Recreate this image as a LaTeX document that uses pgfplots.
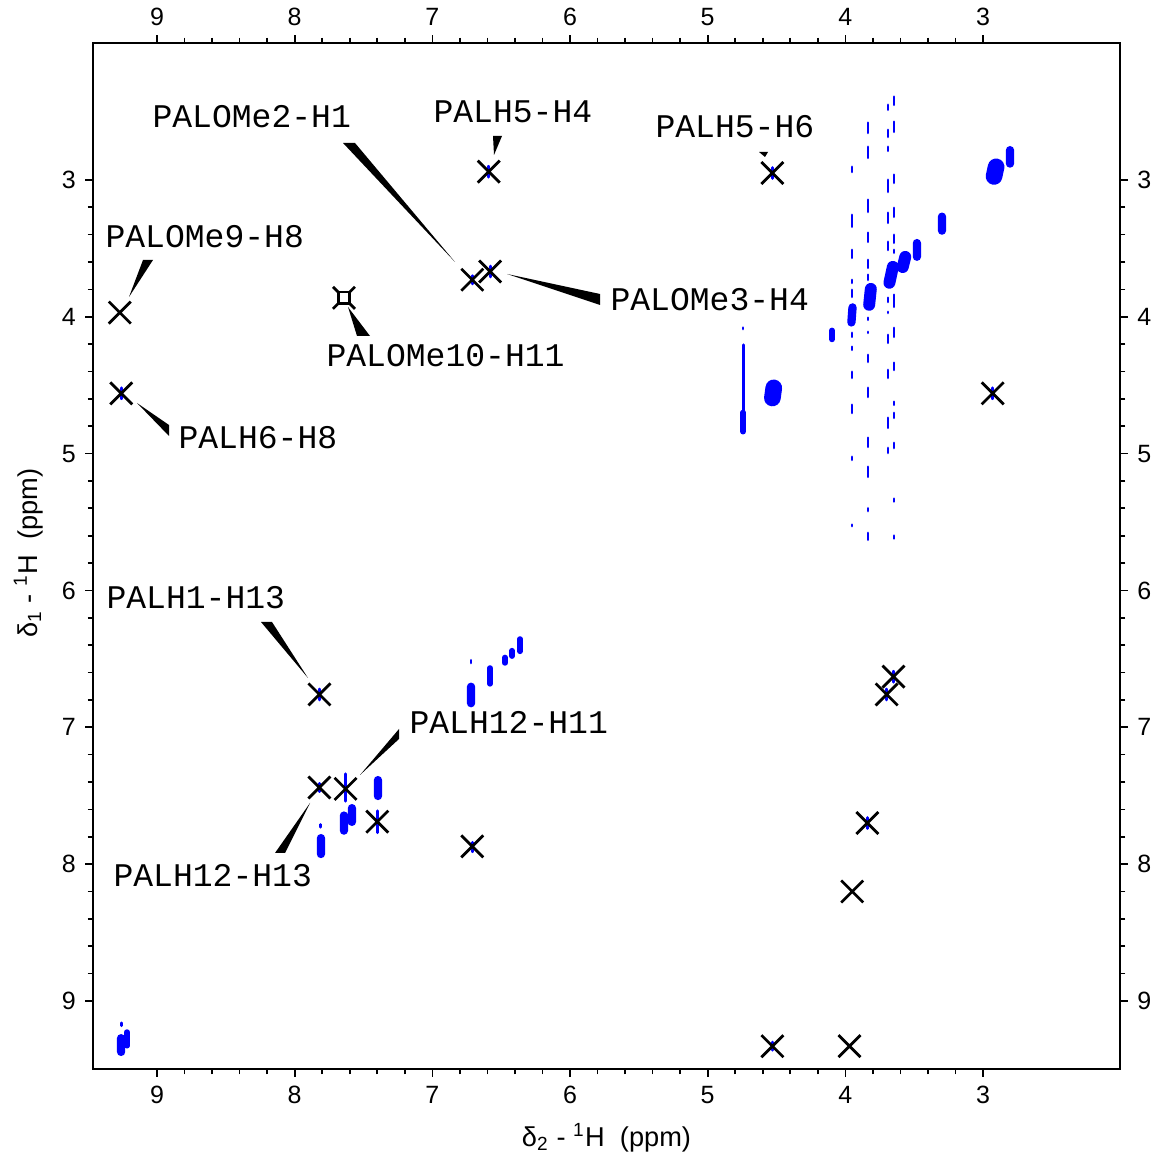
\documentclass[border=0pt]{standalone}
\usepackage{pgfplots}
\pgfplotsset{compat=1.18}
\usepackage{fontspec}
\setmainfont{Liberation Sans}
\newfontfamily\mono{Liberation Mono}

% cross peaks (delta2, delta1)
\pgfplotstableread[row sep=\\]{
x y\\
6.59 2.94\\ 4.53 2.95\\ 6.71 3.73\\ 6.58 3.67\\ 9.27 3.97\\ 9.26 4.56\\
2.93 4.56\\ 7.82 6.76\\ 3.65 6.63\\ 3.70 6.76\\ 7.82 7.44\\ 7.63 7.45\\
7.40 7.69\\ 6.71 7.87\\ 3.84 7.70\\ 3.95 8.20\\ 4.53 9.33\\ 3.97 9.33\\
}\crosses

\begin{document}
\begin{tikzpicture}
\pgfplotsset{
  nmr/.style={
    scale only axis, width=369.72pt, height=369.36pt,
    x dir=reverse, y dir=reverse,
    xmin=2.005, xmax=9.465, ymin=2.0, ymax=9.497,
    xtick={3,...,9}, ytick={3,...,9}, minor tick num=4,
    tick align=outside, major tick length=2.7pt, minor tick length=1.8pt,
    axis line style={line width=0.75pt},
    every tick/.style={black, line width=0.6pt},
    tick label style={font=\fontsize{9}{10}\selectfont},
    /pgf/number format/assume math mode=true,
    label style={font=\fontsize{9.8}{11}\selectfont},
  },
}
\begin{axis}[nmr, name=ax,
  xlabel={δ\textsubscript{2} - \textsuperscript{1}H\ \ (ppm)},
  ylabel={δ\textsubscript{1} - \textsuperscript{1}H\ \ (ppm)},
  ylabel style={xshift=1pt},
  unbounded coords=jump]
\coordinate (TL) at (axis cs:9.465,2.0);
% t1 noise streaks and thin features
\addplot[blue, line width=1pt, line cap=round] table[row sep=\\]{
x y\\
3.952 2.905\\ 3.952 2.942\\ nan nan\\ 3.952 3.256\\ 3.952 3.343\\ nan nan\\
3.952 3.512\\ 3.952 3.570\\ nan nan\\ 3.952 3.731\\ 3.952 3.753\\ nan nan\\
3.952 3.804\\ 3.952 3.855\\ nan nan\\ 3.952 4.118\\ 3.952 4.147\\ nan nan\\
3.952 4.220\\ 3.952 4.242\\ nan nan\\ 3.952 4.403\\ 3.952 4.447\\ nan nan\\
3.952 4.644\\ 3.952 4.703\\ nan nan\\ 3.952 5.024\\ 3.952 5.046\\ nan nan\\
3.952 5.52\\ 3.952 5.53\\ nan nan\\
3.836 2.583\\ 3.836 2.657\\ nan nan\\ 3.836 2.759\\ 3.836 2.839\\ nan nan\\
3.836 3.146\\ 3.836 3.234\\ nan nan\\ 3.836 3.387\\ 3.836 3.453\\ nan nan\\
3.836 3.585\\ 3.836 3.643\\ nan nan\\ 3.836 3.694\\ 3.836 3.731\\ nan nan\\
3.836 4.008\\ 3.836 4.023\\ nan nan\\ 3.836 4.111\\ 3.836 4.118\\ nan nan\\
3.836 4.279\\ 3.836 4.330\\ nan nan\\ 3.836 4.520\\ 3.836 4.586\\ nan nan\\
3.836 4.885\\ 3.836 4.951\\ nan nan\\ 3.836 5.097\\ 3.836 5.170\\ nan nan\\
3.836 5.40\\ 3.836 5.42\\ nan nan\\ 3.836 5.58\\ 3.836 5.63\\ nan nan\\
3.690 2.452\\ 3.690 2.488\\ nan nan\\ 3.690 2.635\\ 3.690 2.686\\ nan nan\\
3.690 2.759\\ 3.690 2.788\\ nan nan\\ 3.690 3.000\\ 3.690 3.088\\ nan nan\\
3.690 3.241\\ 3.690 3.314\\ nan nan\\ 3.690 3.453\\ 3.690 3.512\\ nan nan\\
3.690 3.862\\ 3.690 3.892\\ nan nan\\ 3.690 3.965\\ 3.690 3.972\\ nan nan\\
3.690 4.133\\ 3.690 4.191\\ nan nan\\ 3.690 4.389\\ 3.690 4.447\\ nan nan\\
3.690 4.739\\ 3.690 4.812\\ nan nan\\ 3.690 4.959\\ 3.690 4.995\\ nan nan\\
3.647 2.393\\ 3.647 2.452\\ nan nan\\ 3.647 2.576\\ 3.647 2.649\\ nan nan\\
3.647 2.963\\ 3.647 3.022\\ nan nan\\ 3.647 3.205\\ 3.647 3.270\\ nan nan\\
3.647 3.402\\ 3.647 3.460\\ nan nan\\ 3.647 3.512\\ 3.647 3.533\\ nan nan\\
3.647 3.840\\ 3.647 3.928\\ nan nan\\ 3.647 4.082\\ 3.647 4.147\\ nan nan\\
3.647 4.337\\ 3.647 4.389\\ nan nan\\ 3.647 4.622\\ 3.647 4.644\\ nan nan\\
3.647 4.703\\ 3.647 4.739\\ nan nan\\ 3.647 4.922\\ 3.647 4.959\\ nan nan\\
3.647 5.33\\ 3.647 5.35\\ nan nan\\ 3.647 5.60\\ 3.647 5.62\\ nan nan\\
4.743 4.08\\ 4.743 4.09\\ nan nan\\
6.59 2.90\\ 6.59 2.98\\ nan nan\\ 4.53 2.91\\ 4.53 2.99\\ nan nan\\
6.71 3.70\\ 6.71 3.76\\ nan nan\\ 6.58 3.63\\ 6.58 3.71\\ nan nan\\
9.26 4.52\\ 9.26 4.60\\ nan nan\\ 2.93 4.52\\ 2.93 4.60\\ nan nan\\
7.82 6.72\\ 7.82 6.80\\ nan nan\\ 3.65 6.59\\ 3.65 6.67\\ nan nan\\
3.70 6.72\\ 3.70 6.80\\ nan nan\\ 7.82 7.41\\ 7.82 7.47\\ nan nan\\
7.63 7.34\\ 7.63 7.54\\ nan nan\\ 7.40 7.61\\ 7.40 7.77\\ nan nan\\
6.71 7.84\\ 6.71 7.91\\ nan nan\\ 3.84 7.66\\ 3.84 7.74\\ nan nan\\
4.53 9.30\\ 4.53 9.36\\ nan nan\\ 6.72 6.51\\ 6.72 6.53\\ nan nan\\
7.81 7.71\\ 7.81 7.73\\ nan nan\\ 9.26 9.16\\ 9.26 9.18\\
};
\addplot[blue, line width=1.1pt, line cap=round] table[row sep=\\]{
x y\\
4.743 4.206\\ 4.743 4.75\\
};
% small peaks
\addplot[blue, line width=2pt, line cap=round] table[row sep=\\]{
x y\\
4.097 4.100\\ 4.097 4.166\\ nan nan\\ 4.743 4.70\\ 4.743 4.84\\ nan nan\\
6.581 6.567\\ 6.581 6.683\\ nan nan\\ 6.472 6.49\\ 6.472 6.53\\ nan nan\\
6.421 6.44\\ 6.421 6.48\\ nan nan\\ 6.363 6.355\\ 6.363 6.445\\ nan nan\\
9.218 9.227\\ 9.218 9.327\\
};
% medium peaks
\addplot[blue, line width=3pt, line cap=round] table[row sep=\\]{
x y\\
2.804 2.783\\ 2.804 2.881\\ nan nan\\ 3.298 3.269\\ 3.298 3.371\\ nan nan\\
3.480 3.462\\ 3.480 3.562\\ nan nan\\ 3.948 3.932\\ 3.956 4.042\\ nan nan\\
6.719 6.704\\ 6.719 6.824\\ nan nan\\ 7.809 7.810\\ 7.809 7.926\\ nan nan\\
7.642 7.645\\ 7.642 7.755\\ nan nan\\ 7.584 7.591\\ 7.584 7.691\\ nan nan\\
7.395 7.386\\ 7.395 7.502\\ nan nan\\ 9.261 9.272\\ 9.261 9.372\\
};
% larger diagonal peaks
\addplot[blue, line width=4.3pt, line cap=round] table[row sep=\\]{
x y\\
3.565 3.563\\ 3.583 3.637\\ nan nan\\ 3.655 3.636\\ 3.680 3.752\\ nan nan\\
3.815 3.797\\ 3.827 3.913\\
};
\addplot[blue, line width=6pt, line cap=round] table[row sep=\\]{
x y\\
2.905 2.905\\ 2.920 2.975\\ nan nan\\ 4.520 4.520\\ 4.530 4.594\\
};
% assigned cross peaks
\addplot[only marks, mark=x, mark size=5.6pt, mark options={black, line width=1pt}] table {\crosses};
\addplot[only marks, mark=x, mark size=5.6pt, mark options={black, line width=1pt}] coordinates {(7.642,3.862)};
\addplot[only marks, mark=square*, mark size=2.1pt, mark options={draw=black, fill=white, line width=1pt}] coordinates {(7.642,3.862)};
\end{axis}
\begin{axis}[nmr, xticklabel pos=upper, yticklabel pos=right]
\end{axis}
\pgfresetboundingbox
\begin{scope}[shift={(TL)}, x=0.36pt, y=-0.36pt, shift={(-93,-43)}]
\path[use as bounding box] (0,0) rectangle (1151,1159);
\fill (343,143) -- (355,143) -- (455,262) -- cycle;
\fill (143,260) -- (153,260) -- (129,297) -- cycle;
\fill (493,136) -- (502,136) -- (494,155) -- cycle;
\fill (759,152) -- (768,152) -- (765,157) -- cycle;
\fill (600,294) -- (600,305) -- (507,274) -- cycle;
\fill (357,336) -- (370,336) -- (348,307) -- cycle;
\fill (169,425) -- (169,436) -- (137,403) -- cycle;
\fill (261,622) -- (272,622) -- (308,678) -- cycle;
\fill (399,729) -- (399,739) -- (360,775) -- cycle;
\fill (275,853) -- (285,853) -- (310,803) -- cycle;
\begin{scope}[every node/.style={anchor=west, inner sep=0pt, font=\fontsize{11.9}{12}\mono}]
\node at (152,117) {PALOMe2-H1};
\node at (105,237) {PALOMe9-H8};
\node at (433,112) {PALH5-H4};
\node at (655,127) {PALH5-H6};
\node at (610,300) {PALOMe3-H4};
\node at (326,356) {PALOMe10-H11};
\node at (178,438) {PALH6-H8};
\node at (106,598) {PALH1-H13};
\node at (409,722) {PALH12-H11};
\node at (113,876) {PALH12-H13};
\end{scope}
\end{scope}
\end{tikzpicture}
\end{document}
